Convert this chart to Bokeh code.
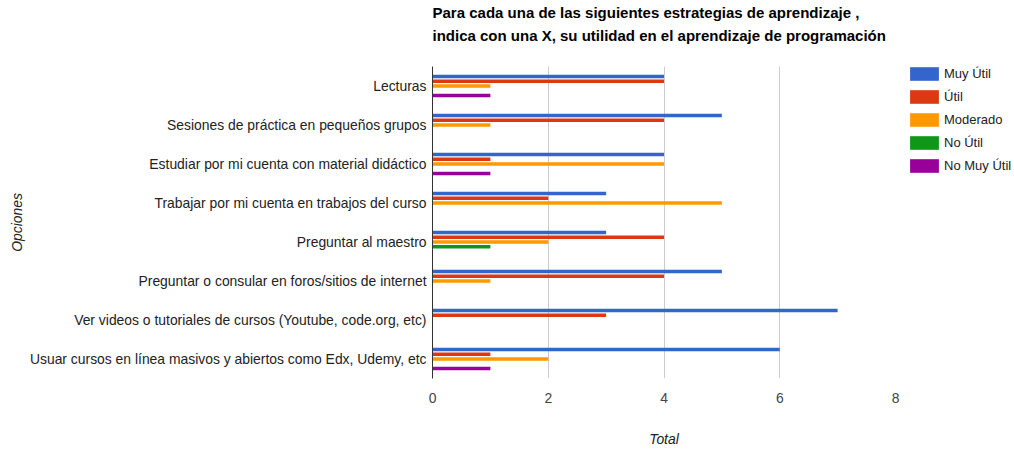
from bokeh.plotting import figure
from bokeh.models import FactorRange, Range1d, Legend, LegendItem, FixedTicker, ColumnDataSource
from bokeh.layouts import row
from bokeh.transform import dodge
from bokeh.embed import file_html
from bokeh.resources import INLINE

categories = [
    "Lecturas",
    "Sesiones de práctica en pequeños grupos",
    "Estudiar por mi cuenta con material didáctico",
    "Trabajar por mi cuenta en trabajos del curso",
    "Preguntar al maestro",
    "Preguntar o consular en foros/sitios de internet",
    "Ver videos o tutoriales de cursos (Youtube, code.org, etc)",
    "Usuar cursos en línea masivos y abiertos como Edx, Udemy, etc",
]
series_names = ["Muy Útil", "Útil", "Moderado", "No Útil", "No Muy Útil"]
muy_util = [4, 5, 4, 3, 3, 5, 7, 6]
util = [4, 4, 1, 2, 4, 4, 3, 1]
moderado = [1, 1, 4, 5, 2, 1, 0, 2]
no_util = [0, 0, 0, 0, 1, 0, 0, 0]
no_muy_util = [1, 0, 1, 0, 0, 0, 0, 1]
x_ticks = [0, 2, 4, 6, 8]

title_lines = [
    "Para cada una de las siguientes estrategias de aprendizaje ,",
    "indica con una X, su utilidad en el aprendizaje de programación",
]

colors = ["#3366cc", "#dc3912", "#ff9900", "#109618", "#990099"]
FONT = "Liberation Sans"
LBL = "13.9px"

p = figure(
    width=905, height=449,
    y_range=FactorRange(factors=categories[::-1]),
    x_range=Range1d(0, 8),
    output_backend="svg", toolbar_location=None,
    min_border_left=432, min_border_right=10,
    min_border_top=66, min_border_bottom=68,
    background_fill_color="white", border_fill_color="white",
)
p.outline_line_color = None

all_series = [muy_util, util, moderado, no_util, no_muy_util]
pitch = 0.122
for i, (name, vals) in enumerate(zip(series_names, all_series)):
    src = ColumnDataSource(dict(cat=categories, v=vals))
    p.hbar(y=dodge("cat", (2 - i) * pitch, range=p.y_range), left=0, right="v",
           height=0.092, source=src, fill_color=colors[i], line_color=None)

# grid
p.ygrid.grid_line_color = None
p.xgrid.ticker = FixedTicker(ticks=x_ticks)
p.xgrid.grid_line_color = "#cccccc"
p.xgrid.grid_line_width = 1

# x axis
p.xaxis.ticker = FixedTicker(ticks=x_ticks)
p.xaxis.axis_line_color = None
p.xaxis.major_tick_line_color = None
p.xaxis.minor_tick_line_color = None
p.xaxis.major_label_text_font = FONT
p.xaxis.major_label_text_font_size = LBL
p.xaxis.major_label_text_color = "#444444"
p.xaxis.major_label_standoff = 8
p.xaxis.axis_label = "Total"
p.xaxis.axis_label_text_font = FONT
p.xaxis.axis_label_text_font_size = LBL
p.xaxis.axis_label_text_font_style = "italic"
p.xaxis.axis_label_text_color = "#222222"
p.xaxis.axis_label_standoff = 25

# y axis
p.yaxis.axis_line_color = "#333333"
p.yaxis.major_tick_line_color = None
p.yaxis.minor_tick_line_color = None
p.yaxis.major_label_text_font = FONT
p.yaxis.major_label_text_font_size = LBL
p.yaxis.major_label_text_color = "#222222"
p.yaxis.major_label_standoff = 0
p.yaxis.axis_label = "Opciones"
p.yaxis.axis_label_text_font = FONT
p.yaxis.axis_label_text_font_size = LBL
p.yaxis.axis_label_text_font_style = "italic"
p.yaxis.axis_label_text_color = "#222222"
p.yaxis.axis_label_standoff = 2

# two-line title (a blank third line keeps the text block away from the frame)
p.title.text = "\n".join(title_lines) + "\n\u00a0"
p.title.text_font = FONT
p.title.text_font_size = "15px"
p.title.text_font_style = "bold"
p.title.text_color = "#000000"
p.title.text_line_height = 1.333
p.title.align = "left"
p.title.vertical_align = "bottom"
p.title.offset = 0
p.title.standoff = 0

# legend panel
lg = figure(width=109, height=449, x_axis_type=None, y_axis_type=None,
            x_range=Range1d(0, 1), y_range=Range1d(0, 1),
            output_backend="svg", toolbar_location=None, min_border=0,
            background_fill_color="white", border_fill_color="white")
lg.outline_line_color = None
lg.grid.grid_line_color = None
items = []
for i, name in enumerate(series_names):
    # off-range placeholder renderer: only its style is used for the legend swatch
    r = lg.hbar(y="y", left=0, right="r", height=0.1,
                source=ColumnDataSource(dict(y=[-5], r=[0])),
                fill_color=colors[i], line_color=None)
    items.append(LegendItem(label=name, renderers=[r], index=0))
legend = Legend(items=items, location=(1, 204), orientation="vertical",
                glyph_width=36, glyph_height=17, label_height=16, spacing=6,
                label_standoff=2, padding=0, margin=0,
                label_text_font=FONT, label_text_font_size="13px", label_text_color="#222222",
                border_line_color=None, background_fill_alpha=0)
lg.add_layout(legend, "center")

layout = row(p, lg, spacing=0)
open("out.html", "w").write(file_html(layout, INLINE))
